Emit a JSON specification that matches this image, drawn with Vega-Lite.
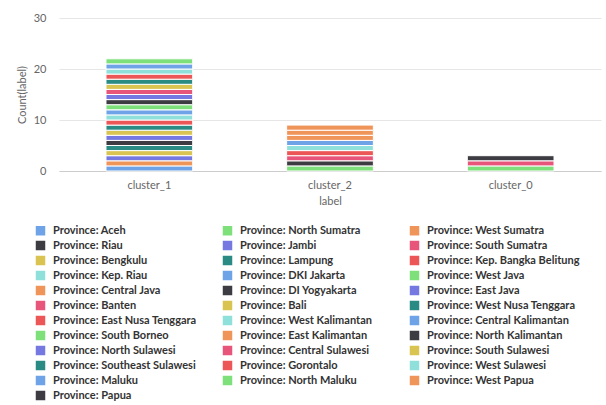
{
  "$schema": "https://vega.github.io/schema/vega-lite/v6.json",
  "width": 542,
  "height": 153,
  "autosize": {"type": "none"},
  "padding": {"left": 59, "top": 18, "right": 5, "bottom": 234},
  "background": "white",
  "data": {
    "values": [
      {"idx": 1, "province": "Aceh", "label": "cluster_1"},
      {"idx": 2, "province": "North Sumatra", "label": "cluster_2"},
      {"idx": 3, "province": "West Sumatra", "label": "cluster_1"},
      {"idx": 4, "province": "Riau", "label": "cluster_2"},
      {"idx": 5, "province": "Jambi", "label": "cluster_1"},
      {"idx": 6, "province": "South Sumatra", "label": "cluster_2"},
      {"idx": 7, "province": "Bengkulu", "label": "cluster_1"},
      {"idx": 8, "province": "Lampung", "label": "cluster_1"},
      {"idx": 9, "province": "Kep. Bangka Belitung", "label": "cluster_2"},
      {"idx": 10, "province": "Kep. Riau", "label": "cluster_2"},
      {"idx": 11, "province": "DKI Jakarta", "label": "cluster_2"},
      {"idx": 12, "province": "West Java", "label": "cluster_0"},
      {"idx": 13, "province": "Central Java", "label": "cluster_2"},
      {"idx": 14, "province": "DI Yogyakarta", "label": "cluster_1"},
      {"idx": 15, "province": "East Java", "label": "cluster_1"},
      {"idx": 16, "province": "Banten", "label": "cluster_0"},
      {"idx": 17, "province": "Bali", "label": "cluster_1"},
      {"idx": 18, "province": "West Nusa Tenggara", "label": "cluster_1"},
      {"idx": 19, "province": "East Nusa Tenggara", "label": "cluster_1"},
      {"idx": 20, "province": "West Kalimantan", "label": "cluster_1"},
      {"idx": 21, "province": "Central Kalimantan", "label": "cluster_1"},
      {"idx": 22, "province": "South Borneo", "label": "cluster_1"},
      {"idx": 23, "province": "East Kalimantan", "label": "cluster_2"},
      {"idx": 24, "province": "North Kalimantan", "label": "cluster_1"},
      {"idx": 25, "province": "North Sulawesi", "label": "cluster_1"},
      {"idx": 26, "province": "Central Sulawesi", "label": "cluster_1"},
      {"idx": 27, "province": "South Sulawesi", "label": "cluster_1"},
      {"idx": 28, "province": "Southeast Sulawesi", "label": "cluster_1"},
      {"idx": 29, "province": "Gorontalo", "label": "cluster_1"},
      {"idx": 30, "province": "West Sulawesi", "label": "cluster_1"},
      {"idx": 31, "province": "Maluku", "label": "cluster_1"},
      {"idx": 32, "province": "North Maluku", "label": "cluster_1"},
      {"idx": 33, "province": "West Papua", "label": "cluster_2"},
      {"idx": 34, "province": "Papua", "label": "cluster_0"}
    ]
  },
  "mark": {"type": "bar", "stroke": "white", "strokeWidth": 1},
  "encoding": {
    "x": {
      "field": "label",
      "type": "nominal",
      "sort": ["cluster_1", "cluster_2", "cluster_0"],
      "scale": {"paddingInner": 0.52, "paddingOuter": 0.26},
      "axis": {
        "title": "label",
        "labelAngle": 0,
        "ticks": false,
        "domain": true,
        "domainColor": "#cccccc",
        "labelPadding": 8,
        "titlePadding": 5
      }
    },
    "y": {
      "aggregate": "count",
      "type": "quantitative",
      "title": "Count(label)",
      "scale": {"domain": [0, 30]},
      "axis": {
        "values": [0, 10, 20, 30],
        "domain": false,
        "ticks": false,
        "grid": true,
        "gridColor": "#e6e6e6",
        "labelPadding": 13,
        "titlePadding": 6
      }
    },
    "order": {"field": "idx", "type": "quantitative", "sort": "ascending"},
    "color": {
      "field": "province",
      "type": "nominal",
      "scale": {
        "domain": ["Aceh", "North Sumatra", "West Sumatra", "Riau", "Jambi", "South Sumatra", "Bengkulu", "Lampung", "Kep. Bangka Belitung", "Kep. Riau", "DKI Jakarta", "West Java", "Central Java", "DI Yogyakarta", "East Java", "Banten", "Bali", "West Nusa Tenggara", "East Nusa Tenggara", "West Kalimantan", "Central Kalimantan", "South Borneo", "East Kalimantan", "North Kalimantan", "North Sulawesi", "Central Sulawesi", "South Sulawesi", "Southeast Sulawesi", "Gorontalo", "West Sulawesi", "Maluku", "North Maluku", "West Papua", "Papua"],
        "range": ["#6fa3e8", "#7ee07a", "#f0955a", "#3c3c42", "#7478e0", "#e8557a", "#d9c452", "#2a8a84", "#ec5656", "#8fe0da", "#6fa3e8", "#7ee07a", "#f0955a", "#3c3c42", "#7478e0", "#e8557a", "#d9c452", "#2a8a84", "#ec5656", "#8fe0da", "#6fa3e8", "#7ee07a", "#f0955a", "#3c3c42", "#7478e0", "#e8557a", "#d9c452", "#2a8a84", "#ec5656", "#8fe0da", "#6fa3e8", "#7ee07a", "#f0955a", "#3c3c42"]
      },
      "legend": {
        "title": null,
        "orient": "none",
        "legendX": -24,
        "legendY": 207,
        "direction": "horizontal",
        "columns": 3,
        "gridAlign": "all",
        "columnPadding": 16,
        "rowPadding": 3,
        "symbolLimit": 0,
        "symbolType": "square",
        "symbolSize": 90,
        "symbolStrokeWidth": 0,
        "labelOffset": 7,
        "labelLimit": 300,
        "labelFontWeight": "bold",
        "labelFontSize": 11,
        "labelColor": "#333333",
        "labelExpr": "'Province: ' + datum.label"
      }
    }
  },
  "config": {
    "font": "Lato",
    "view": {"stroke": null},
    "axis": {
      "labelFont": "Lato",
      "labelFontSize": 11,
      "labelColor": "#666666",
      "titleFont": "Lato",
      "titleFontSize": 11,
      "titleFontWeight": "normal",
      "titleColor": "#666666"
    },
    "legend": {"labelFont": "Lato"}
  }
}
